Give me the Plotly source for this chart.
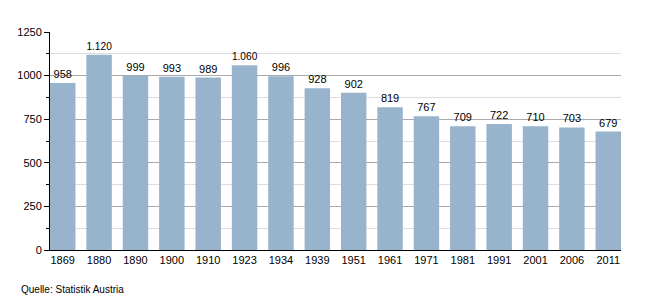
import plotly.graph_objects as go

years = ["1869", "1880", "1890", "1900", "1910", "1923", "1934", "1939", "1951",
         "1961", "1971", "1981", "1991", "2001", "2006", "2011"]
population = [958, 1120, 999, 993, 989, 1060, 996, 928, 902, 819, 767, 709, 722, 710, 703, 679]
labels = [format(v, ",").replace(",", ".") for v in population]
y_ticks = [0, 250, 500, 750, 1000, 1250]

fig = go.Figure(go.Bar(
    x=years, y=population, text=labels, textposition="outside",
    textfont=dict(size=11, color="black"), cliponaxis=False,
    marker=dict(color="#98b3cc", line=dict(width=0)), width=0.7,
))

fig.update_layout(
    width=650, height=300, margin=dict(l=50, r=29, t=32, b=50),
    plot_bgcolor="white", paper_bgcolor="white",
    font=dict(family="Liberation Sans, Arial, sans-serif", size=11, color="black"),
    showlegend=False,
    xaxis=dict(type="category", range=[-0.35, 15.35], showline=True, linecolor="black",
               linewidth=1, ticks="", showgrid=False, tickfont=dict(size=11)),
    yaxis=dict(range=[0, 1250], tickvals=y_ticks, ticktext=[str(t) for t in y_ticks],
               showline=True, linecolor="black", linewidth=1, ticks="outside",
               ticklen=5, tickcolor="black", showgrid=True, gridcolor="#aaaaaa",
               gridwidth=1, zeroline=False, tickfont=dict(size=11),
               minor=dict(dtick=125, tick0=0, ticks="outside", ticklen=3, tickcolor="black",
                          showgrid=True, gridcolor="#dddddd", gridwidth=1)),
    annotations=[dict(text="Quelle: Statistik Austria", xref="paper", yref="paper",
                      x=-31/571, y=-32/218, xanchor="left", yanchor="top",
                      showarrow=False, font=dict(size=10))],
)

fig.write_html("out.html")
